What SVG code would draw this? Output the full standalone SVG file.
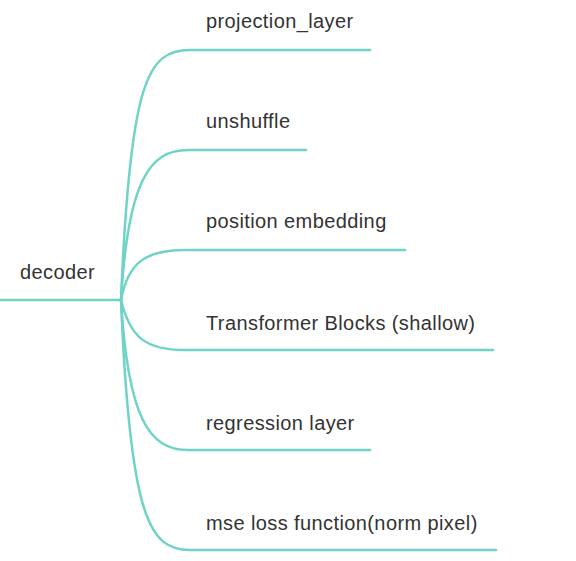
<svg xmlns="http://www.w3.org/2000/svg" width="576" height="561" viewBox="0 0 576 561">
<style>
.c{fill:none;stroke:#6fd3c6;stroke-width:2.5;stroke-linecap:round}
.t{font-family:"Liberation Sans","Noto Sans",sans-serif;font-size:20px;letter-spacing:0.4px;fill:#333}
</style>
<rect width="576" height="561" fill="#fff"/>
<g id="connectors">
<path class="c" d="M0,300 H121"/>
<path class="c" d="M121,300 C130,80 148,50 190,50 H370"/>
<path class="c" d="M121,300 C128,180 150,150 188,150 H306"/>
<path class="c" d="M121,300 C128,263 145,250 185,250 H405"/>
<path class="c" d="M121,300 C130,337 145,350 185,350 H493"/>
<path class="c" d="M121,300 C128,420 150,450 188,450 H370"/>
<path class="c" d="M121,300 C130,520 150,550 190,550 H496"/>
</g>
<g id="decoder"><text class="t" x="20" y="279">decoder</text></g>
<g id="projection_layer"><text class="t" x="206" y="28">projection_layer</text></g>
<g id="unshuffle"><text class="t" x="206" y="128">unshuffle</text></g>
<g id="position_embedding"><text class="t" x="206" y="228">position embedding</text></g>
<g id="transformer_blocks"><text class="t" x="206" y="330">Transformer Blocks (shallow)</text></g>
<g id="regression_layer"><text class="t" x="206" y="430">regression layer</text></g>
<g id="mse_loss"><text class="t" x="206" y="530">mse loss function(norm pixel)</text></g>
</svg>
